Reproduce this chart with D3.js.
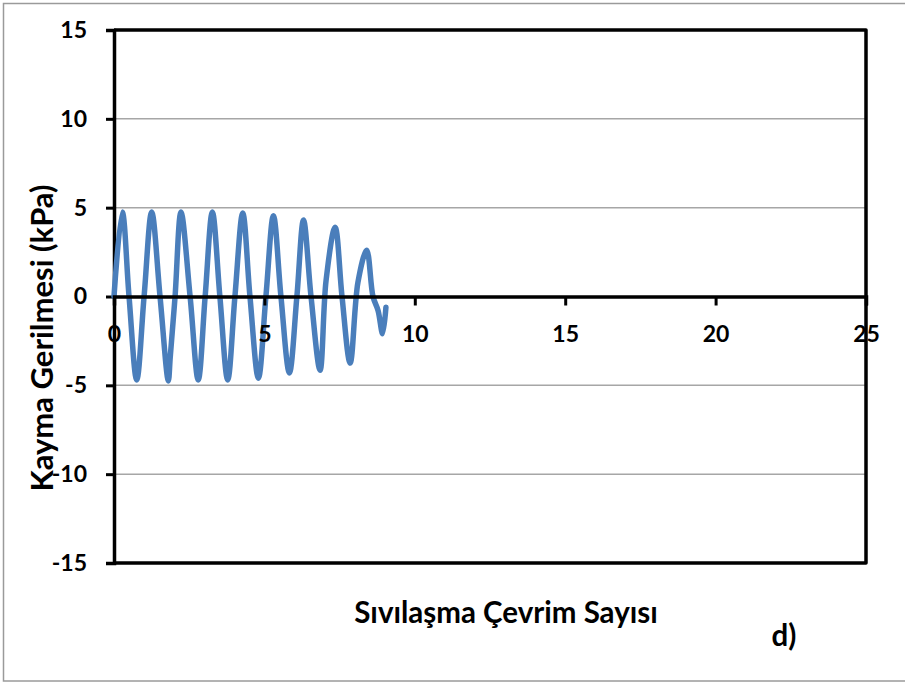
<!DOCTYPE html>
<html>
<head>
<meta charset="utf-8">
<script src="https://cdn.jsdelivr.net/npm/d3@7"></script>
<style>
  html, body { margin: 0; padding: 0; background: #fff; }
  svg { display: block; }
  text { font-family: Lato, "Open Sans", sans-serif; font-weight: bold; fill: #000; }
</style>
</head>
<body>
<script>
// Cycle number (x) and shear stress in kPa (y) for the cyclic record
const cycles = [0, 0.276, 0.5, 0.755, 1.0, 1.253, 1.53, 1.805, 1.87, 2.03, 2.227, 2.53, 2.80, 3.03, 3.27, 3.52, 3.78, 4.02, 4.28, 4.52, 4.80, 5.05, 5.30, 5.55, 5.83, 6.08, 6.30, 6.55, 6.85, 7.05, 7.35, 7.58, 7.85, 8.11, 8.40, 8.61, 8.78, 8.93, 9.04];
const stress = [0, 4.75, 0, -4.7, 0, 4.75, 0, -4.75, -3.4, 0, 4.75, 0, -4.7, 0, 4.75, 0, -4.7, 0, 4.7, 0, -4.6, 0, 4.55, 0, -4.3, 0, 4.3, 0, -4.15, 0.9, 3.9, 0, -3.75, 0.8, 2.6, 0, -0.8, -2.1, -0.6];

const xTicks = [0, 5, 10, 15, 20, 25];
const yTicks = [-15, -10, -5, 0, 5, 10, 15];
const gridValues = [-10, -5, 5, 10];

const xTitle = "Sıvılaşma Çevrim Sayısı";
const yTitle = "Kayma Gerilmesi (kPa)";
const panelTag = "d)";

const W = 905, H = 684;
const plot = { left: 114, right: 866, top: 30, bottom: 563 };
const tickFont = "23px";
const plain = d => String(d);

const svg = d3.select("body").append("svg").attr("width", W).attr("height", H);

// outer frame
svg.append("rect").attr("x", 3.5).attr("y", 3.5).attr("width", W + 10).attr("height", 677.5)
  .attr("fill", "none").attr("stroke", "#9a9a9a").attr("stroke-width", 1.5);

const x = d3.scaleLinear().domain([0, 25]).range([plot.left, plot.right]);
const y = d3.scaleLinear().domain([-15, 15]).range([plot.bottom, plot.top]);

// horizontal gridlines
svg.append("g").selectAll("line").data(gridValues).join("line")
  .attr("x1", plot.left).attr("x2", plot.right)
  .attr("y1", d => y(d)).attr("y2", d => y(d))
  .attr("stroke", "#a6a6a6").attr("stroke-width", 1.5);

// plot border (top, right, bottom)
svg.append("path")
  .attr("d", `M${plot.left},${plot.top}H${plot.right}V${plot.bottom}H${plot.left}`)
  .attr("stroke", "#000").attr("stroke-width", 3.5).attr("fill", "none")
  .attr("stroke-linejoin", "round");

// y axis
const yAxis = svg.append("g").attr("transform", `translate(${plot.left},0)`)
  .call(d3.axisLeft(y).tickValues(yTicks).tickSize(8).tickPadding(19).tickFormat(plain));
yAxis.select(".domain").attr("stroke", "#000").attr("stroke-width", 3.5);
yAxis.selectAll(".tick line").attr("stroke", "#000").attr("stroke-width", 3);
yAxis.selectAll(".tick text").style("font-size", tickFont).style("font-family", "Lato, sans-serif").style("font-weight", "bold");

// series line
const line = d3.line().x((d, i) => x(cycles[i])).y(d => y(d)).curve(d3.curveCatmullRom.alpha(0.5));
svg.append("path").datum(stress).attr("d", line)
  .attr("fill", "none").attr("stroke", "#4a7ebb").attr("stroke-width", 5.5)
  .attr("stroke-linejoin", "round").attr("stroke-linecap", "round");

// x axis crossing at zero
const xAxis = svg.append("g").attr("transform", `translate(0,${y(0)})`)
  .call(d3.axisBottom(x).tickValues(xTicks).tickSize(9).tickPadding(20).tickFormat(plain));
xAxis.select(".domain").attr("stroke", "#000").attr("stroke-width", 3.5);
xAxis.selectAll(".tick line").attr("stroke", "#000").attr("stroke-width", 3);
xAxis.selectAll(".tick text").style("font-size", tickFont).style("font-family", "Lato, sans-serif").style("font-weight", "bold");

// titles
svg.append("text").attr("x", 506).attr("y", 623).attr("text-anchor", "middle")
  .style("font-size", "29.5px").text(xTitle);
svg.append("text").attr("transform", `translate(53,338) rotate(-90)`).attr("text-anchor", "middle")
  .style("font-size", "31px").text(yTitle);
svg.append("text").attr("x", 784).attr("y", 646).attr("text-anchor", "middle")
  .style("font-size", "29.5px").text(panelTag);
</script>
</body>
</html>
